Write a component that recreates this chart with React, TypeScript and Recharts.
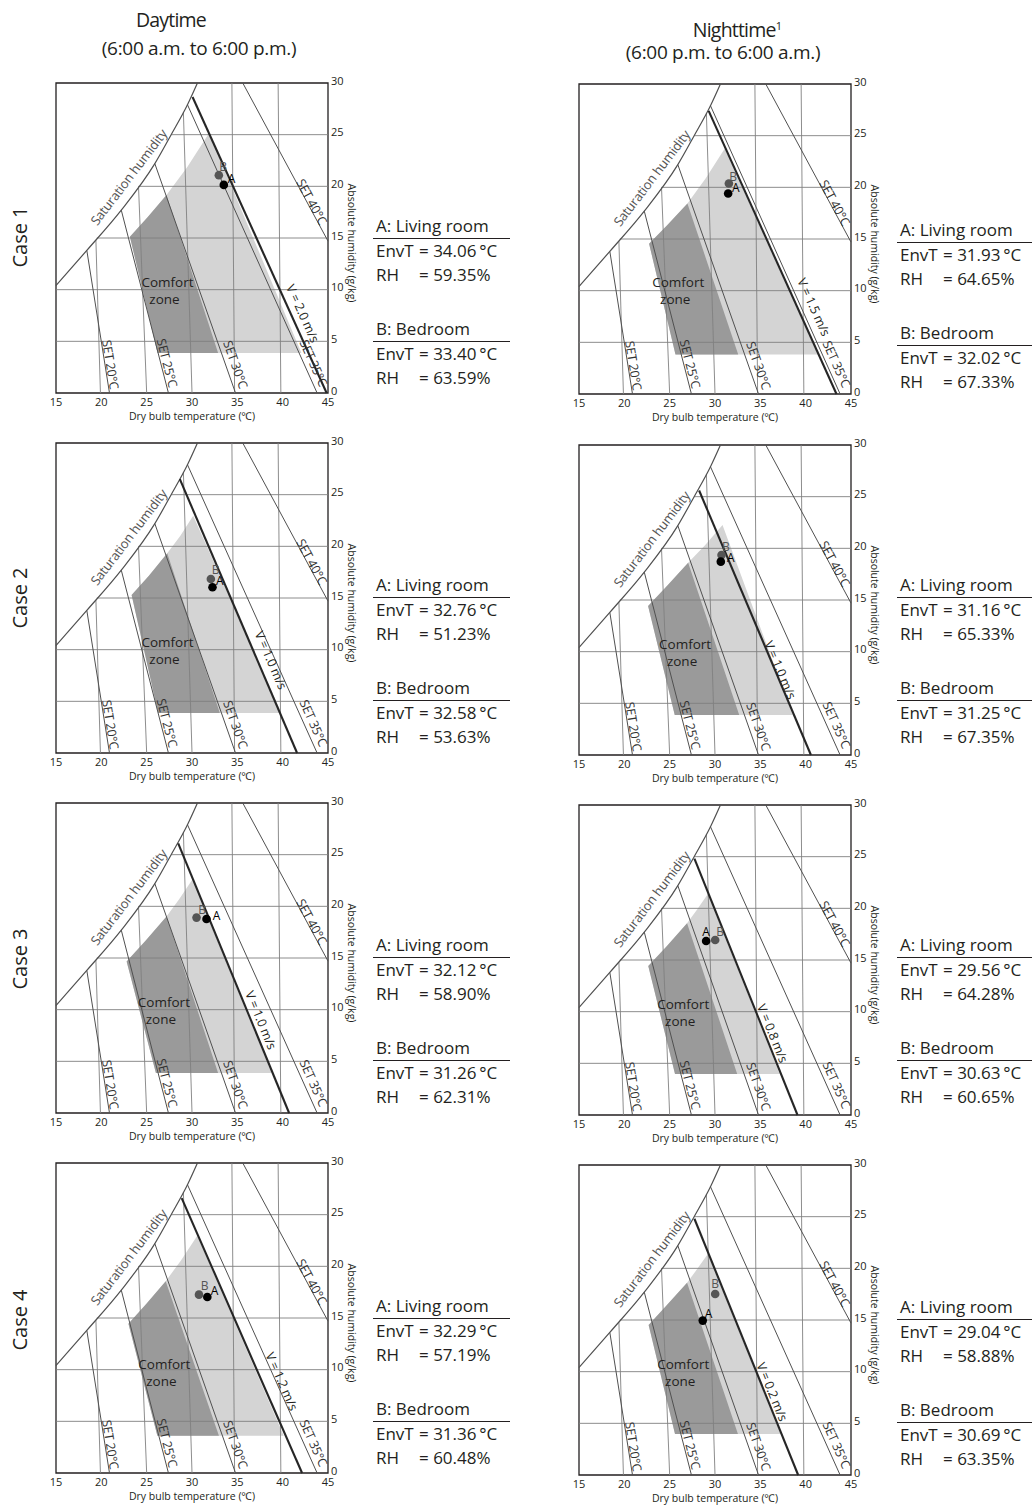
import React from "react";
import { ScatterChart, Scatter, XAxis, YAxis, ReferenceArea } from "recharts";

type Pt = { x: number; y: number };

// axes
const X_TICKS = [15, 20, 25, 30, 35, 40, 45];
const Y_TICKS = [0, 5, 10, 15, 20, 25, 30];
const CASES = ["Case 1", "Case 2", "Case 3", "Case 4"];

// shared chart furniture (deg C, g/kg)
const SATURATION: Pt[] = [
  { x: 15, y: 10.4 },
  { x: 18.4, y: 13.8 },
  { x: 22.2, y: 17.7 },
  { x: 25.9, y: 22.2 },
  { x: 27.7, y: 25.0 },
  { x: 29.5, y: 27.9 },
  { x: 30.6, y: 30 },
];
const GRID_H: Pt[][] = [
  [{ x: 15, y: 5 }, { x: 45, y: 5 }],
  [{ x: 15, y: 10 }, { x: 45, y: 10 }],
  [{ x: 19.5, y: 15 }, { x: 45, y: 15 }],
  [{ x: 24.1, y: 20 }, { x: 45, y: 20 }],
  [{ x: 27.7, y: 25 }, { x: 45, y: 25 }],
];
const GRID_V: Pt[][] = [
  [{ x: 19.4, y: 14.8 }, { x: 19.9, y: 0 }],
  [{ x: 24.1, y: 20 }, { x: 25, y: 0 }],
  [{ x: 29.05, y: 27.2 }, { x: 30, y: 0 }],
  [{ x: 34.4, y: 30 }, { x: 34.7, y: 0 }],
  [{ x: 39.5, y: 30 }, { x: 39.8, y: 0 }],
];
const SET_NAMES = ["SET 20°C", "SET 25°C", "SET 30°C", "SET 35°C", "SET 40°C"];
const SET_LINES: Pt[][] = [
  [{ x: 18.4, y: 13.8 }, { x: 20.9, y: 0 }],
  [{ x: 22.2, y: 17.7 }, { x: 27.4, y: 0 }],
  [{ x: 25.9, y: 22.2 }, { x: 34.8, y: 0 }],
  [{ x: 29.5, y: 27.9 }, { x: 43.8, y: 0 }],
  [{ x: 35.6, y: 30 }, { x: 45, y: 14.7 }],
];
const SET_LABEL_AT: Pt[] = [
  { x: 21.0, y: 2.75 },
  { x: 27.25, y: 2.9 },
  { x: 34.8, y: 2.75 },
  { x: 43.4, y: 2.9 },
  { x: 43.2, y: 18.5 },
];
const SATURATION_LABEL_AT: Pt = { x: 23.0, y: 20.9 };

// panels: day case 1-4, then night case 1-4
const VELOCITY = ["2.0", "1.0", "1.0", "1.2", "1.5", "1.0", "0.8", "0.2"];
const VEL_LINES: Pt[][] = [
  [{ x: 30.06, y: 28.65 }, { x: 44.85, y: 0 }],
  [{ x: 28.66, y: 26.5 }, { x: 41.59, y: 0 }],
  [{ x: 28.48, y: 26.1 }, { x: 40.71, y: 0 }],
  [{ x: 28.86, y: 26.6 }, { x: 42.14, y: 0 }],
  [{ x: 29.3, y: 27.4 }, { x: 43.4, y: 0 }],
  [{ x: 28.25, y: 25.6 }, { x: 40.58, y: 0 }],
  [{ x: 27.73, y: 24.8 }, { x: 39.1, y: 0 }],
  [{ x: 27.73, y: 24.8 }, { x: 39.17, y: 0 }],
];
const VEL_LABEL_AT: Pt[] = [
  { x: 42.2, y: 7.7 },
  { x: 38.7, y: 8.99 },
  { x: 37.6, y: 8.99 },
  { x: 39.9, y: 8.87 },
  { x: 40.9, y: 8.41 },
  { x: 37.2, y: 8.23 },
  { x: 36.35, y: 7.9 },
  { x: 36.3, y: 8.06 },
];
// bottom-left, top-left, curve, top-right of the comfort zone
const ZONE_EDGE: Pt[][] = [
  [{ x: 26.2, y: 3.88 }, { x: 23.15, y: 15.13 }, { x: 25.1, y: 17.0 }, { x: 27.19, y: 19.17 }],
  [{ x: 26.27, y: 3.88 }, { x: 23.34, y: 15.3 }, { x: 25.25, y: 17.15 }, { x: 27.27, y: 19.33 }],
  [{ x: 26.02, y: 3.88 }, { x: 22.79, y: 14.65 }, { x: 24.9, y: 16.7 }, { x: 27.19, y: 19.01 }],
  [{ x: 26.18, y: 3.61 }, { x: 22.99, y: 14.45 }, { x: 24.95, y: 16.35 }, { x: 27.1, y: 18.55 }],
  [{ x: 25.64, y: 3.82 }, { x: 22.73, y: 14.55 }, { x: 24.75, y: 16.35 }, { x: 26.96, y: 18.43 }],
  [{ x: 25.56, y: 3.87 }, { x: 22.62, y: 14.42 }, { x: 24.75, y: 16.4 }, { x: 27.04, y: 18.61 }],
  [{ x: 25.59, y: 3.97 }, { x: 22.64, y: 14.42 }, { x: 24.7, y: 16.35 }, { x: 26.92, y: 18.55 }],
  [{ x: 25.59, y: 3.97 }, { x: 22.68, y: 14.52 }, { x: 24.7, y: 16.45 }, { x: 26.92, y: 18.61 }],
];
const DARK_CORNER: Pt[] = [
  { x: 32.88, y: 3.88 },
  { x: 33.07, y: 3.88 },
  { x: 32.88, y: 3.88 },
  { x: 32.97, y: 3.61 },
  { x: 32.56, y: 3.82 },
  { x: 32.67, y: 3.87 },
  { x: 32.45, y: 3.97 },
  { x: 32.53, y: 3.97 },
];
const LIGHT_EXTRA: Pt[][] = [
  [{ x: 29.5, y: 21.9 }, { x: 31.89, y: 25.15 }, { x: 42.07, y: 3.88 }],
  [{ x: 28.7, y: 21.0 }, { x: 30.13, y: 22.95 }, { x: 39.86, y: 3.88 }],
  [{ x: 28.6, y: 20.7 }, { x: 30.06, y: 22.63 }, { x: 38.76, y: 3.88 }],
  [{ x: 28.8, y: 20.6 }, { x: 30.58, y: 22.97 }, { x: 40.12, y: 3.61 }],
  [{ x: 29.0, y: 20.9 }, { x: 31.08, y: 23.76 }, { x: 41.39, y: 3.82 }],
  [{ x: 28.9, y: 20.3 }, { x: 30.83, y: 22.26 }, { x: 38.56, y: 3.87 }],
  [{ x: 28.05, y: 19.9 }, { x: 29.21, y: 21.39 }, { x: 37.14, y: 3.97 }],
  [{ x: 28.05, y: 19.95 }, { x: 29.21, y: 21.39 }, { x: 37.25, y: 3.97 }],
];
const COMFORT_AT: Pt[] = [
  { x: 27.3, y: 9.95 },
  { x: 27.3, y: 9.95 },
  { x: 26.9, y: 9.95 },
  { x: 26.95, y: 9.7 },
  { x: 25.95, y: 10.0 },
  { x: 26.7, y: 9.95 },
  { x: 26.5, y: 9.95 },
  { x: 26.5, y: 9.95 },
];
const POINT_A: Pt[] = [
  { x: 33.51, y: 20.14 },
  { x: 32.26, y: 16.04 },
  { x: 31.6, y: 18.78 },
  { x: 31.69, y: 17.03 },
  { x: 31.45, y: 19.4 },
  { x: 30.64, y: 18.71 },
  { x: 29.02, y: 16.84 },
  { x: 28.65, y: 14.94 },
];
const POINT_B: Pt[] = [
  { x: 32.96, y: 21.08 },
  { x: 32.08, y: 16.84 },
  { x: 30.5, y: 18.91 },
  { x: 30.77, y: 17.26 },
  { x: 31.53, y: 20.37 },
  { x: 30.72, y: 19.35 },
  { x: 30.02, y: 16.94 },
  { x: 30.02, y: 17.52 },
];
const ENVT_A = ["34.06", "32.76", "32.12", "32.29", "31.93", "31.16", "29.56", "29.04"];
const RH_A = ["59.35", "51.23", "58.90", "57.19", "64.65", "65.33", "64.28", "58.88"];
const ENVT_B = ["33.40", "32.58", "31.26", "31.36", "32.02", "31.25", "30.63", "30.69"];
const RH_B = ["63.59", "53.63", "62.31", "60.48", "67.33", "67.35", "60.65", "63.35"];

// layout
const PLOT_W = 272;
const PLOT_H = 310;
const PLOT_LEFT = [56, 56, 56, 56, 579, 579, 579, 579];
const PLOT_TOP = [83, 443, 803, 1163, 84, 445, 805, 1165];
const STATS_X = [376, 376, 376, 376, 900, 900, 900, 900];
const STATS_RIGHT = [510, 510, 510, 510, 1032, 1032, 1032, 1032];
const STATS_Y = [226, 585, 945, 1306, 230, 585, 945, 1307];
const A_OFF = [[7.7, -6.7], [7.3, -6.7], [10, -3], [7.3, -6.7], [7.7, -6], [10, -4], [0, -9.3], [5.7, -7.3]];
const B_OFF = [[4.3, -8.7], [4.7, -9], [5.7, -8.3], [5.7, -9], [4.3, -7.3], [4.3, -8.3], [5, -8.3], [0, -10.7]];

const FONT = "'Open Sans', 'Noto Sans', sans-serif";
const INK = "#231f20";
const LIGHT = "#d4d4d4";
const DARK = "#9a9a9a";
const GRID = "#808080";
const LINE = "#505050";

const PX_X = PLOT_W / 30;
const PX_Y = PLOT_H / 30;
const slopeAngle = (l: Pt[]) =>
  (Math.atan2((l[0].y - l[1].y) * PX_Y, (l[1].x - l[0].x) * PX_X) * 180) / Math.PI;

const noShape = () => <g />;

const textShape =
  (text: string, angle: number, size: number, color = INK) =>
  (p: any) => (
    <text
      x={p.cx}
      y={p.cy}
      transform={`rotate(${angle} ${p.cx} ${p.cy})`}
      textAnchor="middle"
      dominantBaseline="central"
      fontSize={size}
      fill={color}
      fontFamily={FONT}
      letterSpacing={-0.2}
    >
      {text}
    </text>
  );

const comfortShape = (p: any) => (
  <g fontFamily={FONT} fontSize={13.5} fill={INK} textAnchor="middle">
    <text x={p.cx} y={p.cy - 8.5} dominantBaseline="central">Comfort</text>
    <text x={p.cx - 3} y={p.cy + 8.5} dominantBaseline="central">zone</text>
  </g>
);

const dotShape =
  (name: string, color: string, off: number[]) =>
  (p: any) => (
    <g>
      <circle cx={p.cx} cy={p.cy} r={4.3} fill={color} />
      <text
        x={p.cx + off[0]}
        y={p.cy + off[1]}
        textAnchor="middle"
        dominantBaseline="central"
        fontSize={12}
        fill={color}
        fontFamily={FONT}
      >
        {name}
      </text>
    </g>
  );

const yTick = (p: any) => (
  <text x={p.x} y={p.y - 3} textAnchor="start" dominantBaseline="central" fontSize={11} fill={INK} fontFamily={FONT}>
    {p.payload.value}
  </text>
);

function Stroke({ data, color, width, curve }: { data: Pt[]; color: string; width: number; curve?: any }) {
  return (
    <Scatter
      data={data}
      shape={noShape}
      line={{ stroke: color, strokeWidth: width }}
      lineType="joint"
      lineJointType={curve || "linear"}
      isAnimationActive={false}
    />
  );
}

function Panel({ i }: { i: number }) {
  const dark = [...ZONE_EDGE[i], DARK_CORNER[i]];
  const light = [...ZONE_EDGE[i], ...LIGHT_EXTRA[i]];
  return (
    <div style={{ position: "absolute", left: PLOT_LEFT[i] - 10, top: PLOT_TOP[i] - 10 }}>
      <ScatterChart width={PLOT_W + 50} height={PLOT_H + 42} margin={{ top: 10, right: 0, bottom: 0, left: 10 }}>
        <XAxis
          type="number"
          dataKey="x"
          domain={[15, 45]}
          ticks={X_TICKS}
          axisLine={false}
          tickLine={false}
          tickSize={0}
          tickMargin={5}
          height={32}
          tick={{ fill: INK, fontSize: 11, fontFamily: FONT }}
          label={{ value: "Dry bulb temperature (℃)", position: "insideBottom", offset: 5, fontSize: 10.5, fill: INK, fontFamily: FONT }}
        />
        <YAxis
          type="number"
          dataKey="y"
          domain={[0, 30]}
          ticks={Y_TICKS}
          orientation="right"
          axisLine={false}
          tickLine={false}
          tickSize={0}
          tickMargin={3}
          width={40}
          tick={yTick}
        />
        <Scatter data={light} shape={noShape} line={{ fill: LIGHT, stroke: "none" }} lineType="joint" isAnimationActive={false} />
        <Scatter data={dark} shape={noShape} line={{ fill: DARK, stroke: "none" }} lineType="joint" isAnimationActive={false} />
        {GRID_H.map((l, k) => (
          <Stroke key={`h${k}`} data={l} color={GRID} width={0.9} />
        ))}
        {GRID_V.map((l, k) => (
          <Stroke key={`v${k}`} data={l} color={GRID} width={0.9} />
        ))}
        {SET_LINES.map((l, k) => (
          <Stroke key={`s${k}`} data={l} color={LINE} width={1} />
        ))}
        <Stroke data={SATURATION} color={LINE} width={1.2} curve="monotoneX" />
        <Stroke data={VEL_LINES[i]} color="#262626" width={2.1} />
        {SET_LINES.map((l, k) => (
          <Scatter
            key={`sl${k}`}
            data={[SET_LABEL_AT[k]]}
            shape={textShape(SET_NAMES[k], slopeAngle(l), 12.5, "#333")}
            isAnimationActive={false}
          />
        ))}
        <Scatter data={[SATURATION_LABEL_AT]} shape={textShape("Saturation humidity", -52.6, 13, "#555")} isAnimationActive={false} />
        <Scatter
          data={[VEL_LABEL_AT[i]]}
          shape={textShape(`V = ${VELOCITY[i]} m/s`, slopeAngle(VEL_LINES[i]), 12.5)}
          isAnimationActive={false}
        />
        <Scatter data={[COMFORT_AT[i]]} shape={comfortShape} isAnimationActive={false} />
        <Scatter data={[POINT_B[i]]} shape={dotShape("B", "#555", B_OFF[i])} isAnimationActive={false} />
        <Scatter data={[POINT_A[i]]} shape={dotShape("A", "#000", A_OFF[i])} isAnimationActive={false} />
        <ReferenceArea x1={15} x2={45} y1={0} y2={30} fill="none" stroke={INK} strokeWidth={1.3} />
      </ScatterChart>
    </div>
  );
}

function Centered({ x, y, size, rotate = 0, children, style }: any) {
  return (
    <div
      style={{
        position: "absolute",
        left: x,
        top: y,
        transform: `translate(-50%, -50%) rotate(${rotate}deg)`,
        fontSize: size,
        lineHeight: 1.2,
        whiteSpace: "nowrap",
        ...style,
      }}
    >
      {children}
    </div>
  );
}

function Stats({ i }: { i: number }) {
  const x = STATS_X[i];
  const y = STATS_Y[i];
  const row = (cy: number, content: React.ReactNode) => (
    <div style={{ position: "absolute", left: x, top: cy - 12, height: 24, lineHeight: "24px", fontSize: 17, whiteSpace: "nowrap" }}>
      {content}
    </div>
  );
  const rule = (cy: number) => (
    <div style={{ position: "absolute", left: x - 3, top: cy, width: STATS_RIGHT[i] - x + 3, height: 1.3, background: INK }} />
  );
  const key = (t: string) => <span style={{ display: "inline-block", width: 43 }}>{t}</span>;
  return (
    <>
      {row(y, "A: Living room")}
      {rule(y + 12)}
      {row(y + 25, <>{key("EnvT")}= {ENVT_A[i]}{"\u2009"}°C</>)}
      {row(y + 49, <>{key("RH")}= {RH_A[i]}%</>)}
      {row(y + 103, "B: Bedroom")}
      {rule(y + 115)}
      {row(y + 128, <>{key("EnvT")}= {ENVT_B[i]}{"\u2009"}°C</>)}
      {row(y + 152, <>{key("RH")}= {RH_B[i]}%</>)}
    </>
  );
}

export default function App() {
  const idx = [0, 1, 2, 3, 4, 5, 6, 7];
  return (
    <div
      style={{
        position: "absolute",
        left: 0,
        top: 0,
        width: 1032,
        height: 1505,
        background: "#fff",
        fontFamily: FONT,
        color: INK,
        overflow: "hidden",
      }}
    >
      <Centered x={171} y={20} size={19.5} style={{ letterSpacing: -0.8 }}>Daytime</Centered>
      <Centered x={199} y={48} size={19} style={{ letterSpacing: -0.3 }}>(6:00 a.m. to 6:00 p.m.)</Centered>
      <Centered x={737} y={30} size={19.5} style={{ letterSpacing: -0.8 }}>
        Nighttime<sup style={{ fontSize: 11 }}>1</sup>
      </Centered>
      <Centered x={723} y={52} size={19} style={{ letterSpacing: -0.3 }}>(6:00 p.m. to 6:00 a.m.)</Centered>
      {CASES.map((c, r) => (
        <Centered key={c} x={20} y={237 + 361 * r} size={20} rotate={-90}>
          {c}
        </Centered>
      ))}
      {idx.map((i) => (
        <Centered key={`yl${i}`} x={PLOT_LEFT[i] + PLOT_W + 24} y={PLOT_TOP[i] + 160} size={10.5} rotate={90}>
          Absolute humidity (g/kg)
        </Centered>
      ))}
      {idx.map((i) => (
        <Panel key={`p${i}`} i={i} />
      ))}
      {idx.map((i) => (
        <Stats key={`s${i}`} i={i} />
      ))}
    </div>
  );
}
